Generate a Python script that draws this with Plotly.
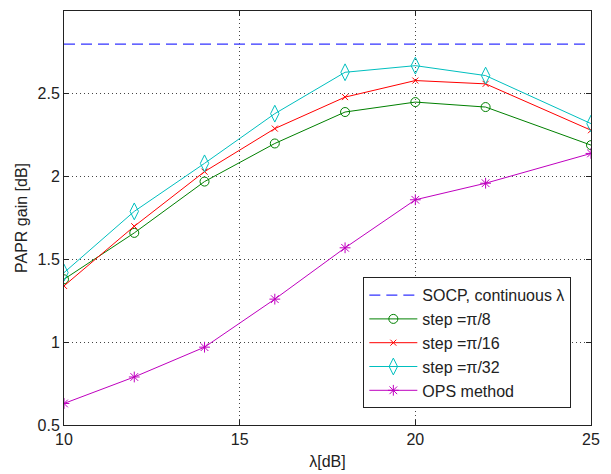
import plotly.graph_objects as go

lam = [10, 12, 14, 16, 18, 20, 22, 25]
socp_x = [10, 25]
socp_y = [2.8, 2.8]
step8 = [1.38, 1.66, 1.97, 2.20, 2.39, 2.45, 2.42, 2.19]
step16 = [1.34, 1.70, 2.03, 2.29, 2.48, 2.58, 2.56, 2.28]
step32 = [1.42, 1.79, 2.08, 2.38, 2.63, 2.67, 2.61, 2.32]
ops = [0.63, 0.79, 0.97, 1.26, 1.57, 1.86, 1.96, 2.14]

names = ["SOCP, continuous λ", "step =π/8", "step =π/16", "step =π/32", "OPS method"]
x_ticks = [10, 15, 20, 25]
y_ticks = [0.5, 1, 1.5, 2, 2.5, 3]
y_tick_text = ["0.5", "1", "1.5", "2", "2.5", "3"]

fig = go.Figure()
fig.add_trace(go.Scatter(x=socp_x, y=socp_y, mode="lines", name=names[0],
                         line=dict(color="#3333ff", width=1.3, dash="11px,6px")))
fig.add_trace(go.Scatter(x=lam, y=step8, mode="lines+markers", name=names[1],
                         line=dict(color="#008000", width=1),
                         marker=dict(symbol="circle-open", size=9, color="#008000", line=dict(width=1))))
fig.add_trace(go.Scatter(x=lam, y=step16, mode="lines+markers", name=names[2],
                         line=dict(color="#ff0000", width=1),
                         marker=dict(symbol="x-thin-open", size=6, color="#ff0000", line=dict(width=1, color="#ff0000"))))
fig.add_trace(go.Scatter(x=lam, y=step32, mode="lines+markers", name=names[3],
                         line=dict(color="#00bfbf", width=1),
                         marker=dict(symbol="diamond-tall-open", size=12, color="#00bfbf", line=dict(width=1))))
fig.add_trace(go.Scatter(x=lam, y=ops, mode="lines+markers", name=names[4],
                         line=dict(color="#bf00bf", width=1),
                         marker=dict(symbol="asterisk-open", size=9, color="#bf00bf", line=dict(width=1, color="#bf00bf"))))

axis_common = dict(showline=True, linecolor="#222222", linewidth=1, mirror="ticks",
                   ticks="inside", ticklen=5, tickcolor="#222222",
                   showgrid=True, gridcolor="#444444", gridwidth=1, griddash="1px,3px",
                   zeroline=False, tickfont=dict(size=16, color="#222222"))

fig.update_layout(
    width=603, height=466,
    margin=dict(l=56, r=20, t=3, b=49),
    paper_bgcolor="white", plot_bgcolor="white",
    font=dict(family="Liberation Sans, Arial, sans-serif", size=16, color="#222222"),
    xaxis=dict(range=[10, 25], tickvals=x_ticks,
               title=dict(text="λ[dB]", standoff=8, font=dict(size=16)), **axis_common),
    yaxis=dict(range=[0.5, 3], tickvals=y_ticks, ticktext=y_tick_text,
               title=dict(text="PAPR gain [dB]", standoff=5, font=dict(size=16)), **axis_common),
    legend=dict(x=0.568, y=0.357, xanchor="left", yanchor="top",
                bordercolor="#222222", borderwidth=1, bgcolor="white",
                font=dict(size=16), itemwidth=48, tracegroupgap=0),
    showlegend=True,
)

fig.write_html("out.html")
